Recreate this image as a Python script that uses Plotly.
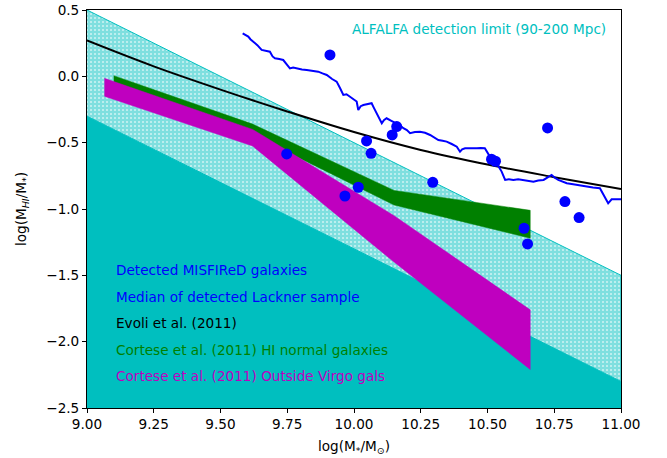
import plotly.graph_objects as go

# ---- data ----
alfalfa_x = [9.0, 11.0]
alfalfa_upper = [0.5, -1.5]
alfalfa_lower = [-0.3, -2.3]
y_floor = -2.5

evoli_x = [9.0, 9.25, 9.5, 9.75, 10.0, 10.25, 10.5, 10.75, 11.0]
evoli_y = [0.27, 0.075, -0.10, -0.265, -0.42, -0.555, -0.665, -0.76, -0.85]

green_x = [9.1, 9.62, 10.15, 10.66]
green_top = [0.005, -0.36, -0.86, -1.01]
green_bot = [-0.10, -0.44, -0.97, -1.22]

mag_x = [9.065, 9.62, 10.15, 10.66]
mag_top = [-0.015, -0.40, -1.05, -1.76]
mag_bot = [-0.15, -0.525, -1.40, -2.21]

lackner_x = [9.583, 9.594, 9.604, 9.612, 9.623, 9.638, 9.654, 9.67, 9.685, 9.695,
             9.704, 9.72, 9.735, 9.748, 9.76, 9.772, 9.785, 9.805, 9.823, 9.845,
             9.866, 9.882, 9.898, 9.918, 9.935, 9.948, 9.96, 9.972, 9.985, 10.0,
             10.01, 10.016, 10.025, 10.035, 10.05, 10.066, 10.075, 10.085, 10.095, 10.104,
             10.112, 10.122, 10.14, 10.16, 10.172, 10.185, 10.198, 10.21, 10.228, 10.247,
             10.266, 10.285, 10.3, 10.316, 10.332, 10.347, 10.366, 10.385, 10.397, 10.405,
             10.416, 10.44, 10.46, 10.475, 10.49, 10.509, 10.52, 10.534, 10.553, 10.566,
             10.58, 10.597, 10.615, 10.634, 10.652, 10.672, 10.69, 10.71, 10.74, 10.752,
             10.765, 10.78, 10.797, 10.815, 10.834, 10.85, 10.871, 10.895, 10.921, 10.94,
             10.952, 10.965, 11.0]
lackner_y = [0.324, 0.31, 0.30, 0.28, 0.261, 0.235, 0.199, 0.195, 0.186, 0.15,
             0.136, 0.13, 0.123, 0.09, 0.06, 0.067, 0.06, 0.052, 0.048, 0.04,
             0.035, 0.022, 0.01, -0.02, -0.04, -0.09, -0.14, -0.135, -0.153, -0.17,
             -0.19, -0.254, -0.225, -0.216, -0.21, -0.203, -0.24, -0.278, -0.31, -0.354,
             -0.33, -0.316, -0.335, -0.354, -0.37, -0.391, -0.405, -0.429, -0.42, -0.417,
             -0.425, -0.442, -0.46, -0.48, -0.485, -0.492, -0.51, -0.53, -0.568, -0.55,
             -0.542, -0.545, -0.542, -0.54, -0.542, -0.605, -0.63, -0.655, -0.718, -0.781,
             -0.775, -0.781, -0.776, -0.781, -0.785, -0.794, -0.785, -0.781, -0.743, -0.765,
             -0.781, -0.795, -0.806, -0.812, -0.819, -0.825, -0.832, -0.838, -0.844, -0.919,
             -0.957, -0.927, -0.927]

misfired_x = [9.748, 9.91, 9.966, 10.016, 10.047, 10.064, 10.143, 10.16, 10.295, 10.515,
              10.53, 10.637, 10.65, 10.725, 10.79, 10.843]
misfired_y = [-0.585, 0.161, -0.902, -0.836, -0.487, -0.58, -0.442, -0.379, -0.799, -0.625,
              -0.64, -1.145, -1.263, -0.389, -0.944, -1.065]

legend_labels = ["Detected MISFIReD galaxies", "Median of detected Lackner sample",
                 "Evoli et al. (2011)", "Cortese et al. (2011) HI normal galaxies",
                 "Cortese et al. (2011) Outside Virgo gals"]
legend_colors = ["#0000FF", "#0000FF", "#000000", "#008000", "#BF00BF"]
legend_y = [-1.46, -1.66, -1.86, -2.06, -2.26]

x_ticks = [9.0, 9.25, 9.5, 9.75, 10.0, 10.25, 10.5, 10.75, 11.0]
y_ticks = [0.5, 0.0, -0.5, -1.0, -1.5, -2.0, -2.5]

CYAN = "#00BFBF"
FONT = "DejaVu Sans"

fig = go.Figure()

# hatched ALFALFA band
fig.add_trace(go.Scatter(
    x=alfalfa_x + alfalfa_x[::-1], y=alfalfa_upper + alfalfa_lower[::-1],
    fill="toself", mode="lines", line=dict(color=CYAN, width=1),
    fillpattern=dict(shape="+", fgcolor=CYAN, bgcolor="white", size=4, solidity=0.9),
    hoverinfo="skip", showlegend=False))
# solid region below limit
fig.add_trace(go.Scatter(
    x=alfalfa_x + alfalfa_x[::-1], y=alfalfa_lower + [y_floor, y_floor],
    fill="toself", mode="lines", line=dict(color=CYAN, width=0),
    fillcolor=CYAN, hoverinfo="skip", showlegend=False))

# Evoli
fig.add_trace(go.Scatter(x=evoli_x, y=evoli_y, mode="lines", line_shape="spline",
                         line=dict(color="black", width=2), showlegend=False))
# Cortese HI normal
fig.add_trace(go.Scatter(x=green_x + green_x[::-1], y=green_top + green_bot[::-1],
                         fill="toself", mode="lines", line=dict(color="#008000", width=0.5),
                         fillcolor="#008000", showlegend=False))
# Cortese outside Virgo
fig.add_trace(go.Scatter(x=mag_x + mag_x[::-1], y=mag_top + mag_bot[::-1],
                         fill="toself", mode="lines", line=dict(color="#BF00BF", width=0.5),
                         fillcolor="#BF00BF", showlegend=False))
# Lackner median
fig.add_trace(go.Scatter(x=lackner_x, y=lackner_y, mode="lines",
                         line=dict(color="#0000FF", width=2), showlegend=False))
# MISFIReD points
fig.add_trace(go.Scatter(x=misfired_x, y=misfired_y, mode="markers",
                         marker=dict(color="#0000FF", size=11, line=dict(width=0)),
                         showlegend=False))

for lab, col, yy in zip(legend_labels, legend_colors, legend_y):
    fig.add_annotation(x=9.1, y=yy, text=lab, showarrow=False, xanchor="left",
                       yanchor="middle", font=dict(color=col, size=13.6, family=FONT))

fig.add_annotation(x=10.95, y=0.357, text="ALFALFA detection limit (90-200 Mpc)",
                   showarrow=False, xanchor="right", yanchor="middle",
                   font=dict(color=CYAN, size=13.6, family=FONT))

axis_common = dict(showline=True, linecolor="black", linewidth=1, mirror=True,
                   ticks="outside", ticklen=4, tickcolor="black", showgrid=False,
                   zeroline=False, automargin=False,
                   tickfont=dict(size=13.6, family=FONT, color="black"))

fig.update_xaxes(range=[9.0, 11.0], tickvals=x_ticks, tickformat=".2f",
                 title=dict(text="log(M<sub>*</sub>/M<sub>⊙</sub>)", standoff=10,
                            font=dict(size=13.6, family=FONT, color="black")),
                 **axis_common)
fig.update_yaxes(range=[-2.5, 0.5], tickvals=y_ticks, tickformat=".1f",
                 title=dict(text="log(M<sub><i>HI</i></sub>/M<sub>*</sub>)", standoff=16,
                            font=dict(size=13.6, family=FONT, color="black")),
                 **axis_common)

fig.update_layout(width=667, height=458, margin=dict(l=87, r=46, t=10, b=50),
                  paper_bgcolor="white", plot_bgcolor="white",
                  font=dict(family=FONT, color="black"))

fig.write_html("out.html", config={"displayModeBar": False},
               post_script="document.body.style.margin='0px';")
